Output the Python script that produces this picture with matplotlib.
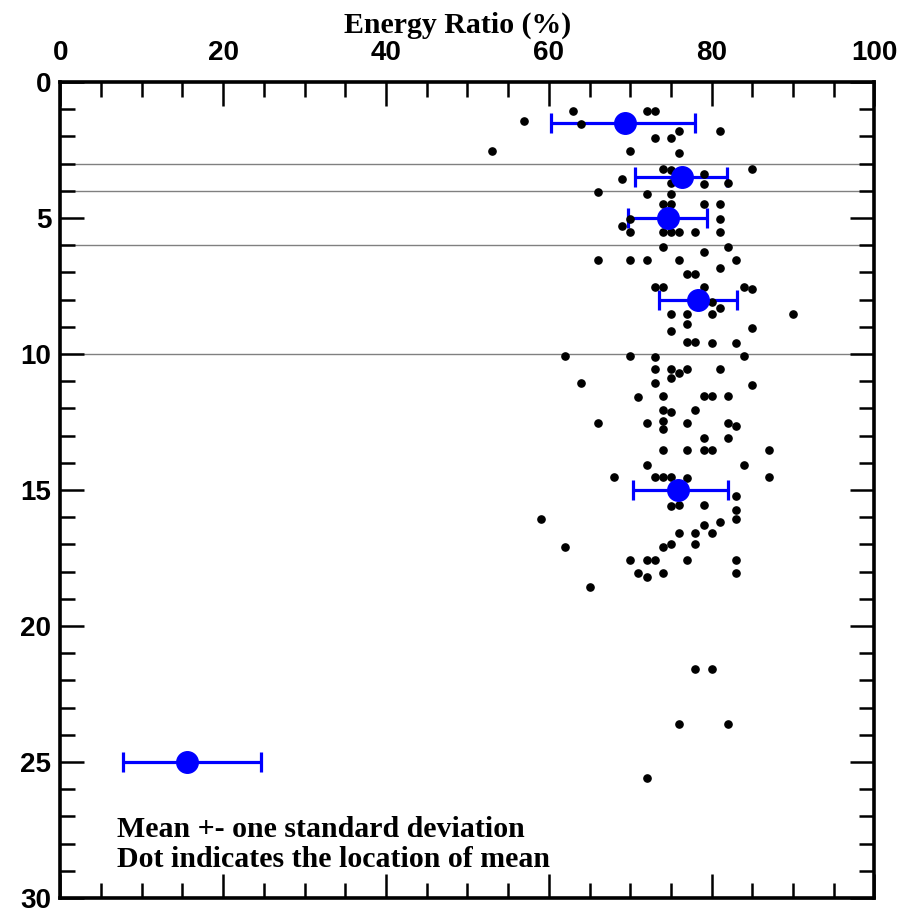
import numpy as np
import matplotlib
matplotlib.use("Agg")
from matplotlib import pyplot as plt
from matplotlib.ticker import MultipleLocator

# individual measurements: energy ratio (%) and depth
pts_x = [63, 72, 73, 57, 64, 81, 76, 73, 75, 53, 70, 76,
         85, 74, 75, 79, 69, 82, 75, 79, 66, 72, 75,
         74, 75, 79, 81, 81, 70, 69, 70, 74, 75, 76, 78, 81,
         74, 82, 79, 66, 70, 72, 76, 83, 81, 77, 78,
         73, 74, 79, 84, 85, 80, 81, 75, 77, 80, 90, 77, 85, 75,
         77, 78, 80, 83, 62, 70, 73, 84, 73, 75, 77, 81, 76, 75,
         64, 73, 85, 71, 74, 79, 80, 82, 74, 78, 75, 74,
         66, 72, 77, 82, 83, 74, 79, 82, 74, 77, 79, 80, 87,
         72, 84, 68, 73, 74, 75, 77, 87, 83, 75, 76, 79, 83,
         83, 59, 81, 79, 76, 78, 80, 62, 74, 75, 78,
         70, 72, 73, 77, 83, 71, 74, 83, 72, 65, 78, 80, 76, 82, 72]
pts_y = [1.05, 1.05, 1.05, 1.45, 1.55, 1.8, 1.8, 2.05, 2.05, 2.55, 2.55, 2.6,
         3.2, 3.2, 3.25, 3.4, 3.55, 3.7, 3.7, 3.75, 4.05, 4.12, 4.12,
         4.5, 4.5, 4.5, 4.5, 5.05, 5.05, 5.3, 5.53, 5.53, 5.53, 5.53, 5.53, 5.5,
         6.05, 6.08, 6.25, 6.55, 6.55, 6.55, 6.55, 6.55, 6.85, 7.05, 7.05,
         7.55, 7.55, 7.55, 7.55, 7.6, 8.1, 8.3, 8.52, 8.52, 8.52, 8.52, 8.9, 9.03, 9.15,
         9.55, 9.55, 9.58, 9.58, 10.07, 10.07, 10.1, 10.07, 10.57, 10.57, 10.57, 10.55, 10.7, 10.87,
         11.05, 11.05, 11.15, 11.6, 11.55, 11.55, 11.55, 11.55, 12.06, 12.06, 12.12, 12.45,
         12.55, 12.55, 12.55, 12.55, 12.65, 12.76, 13.1, 13.08, 13.54, 13.54, 13.54, 13.54, 13.54,
         14.09, 14.08, 14.53, 14.53, 14.53, 14.53, 14.55, 14.53, 15.24, 15.6, 15.57, 15.57, 15.74,
         16.07, 16.07, 16.16, 16.29, 16.57, 16.57, 16.6, 17.08, 17.08, 17.0, 17.0,
         17.57, 17.57, 17.57, 17.57, 17.57, 18.06, 18.06, 18.06, 18.2, 18.58, 21.6, 21.6, 23.6, 23.6, 25.6]

# group means with +- one standard deviation
mean_x = [69.4, 76.3, 74.6, 78.3, 75.9]
mean_y = [1.5, 3.5, 5.0, 8.0, 15.0]
low_x = [60.3, 70.6, 69.7, 73.5, 70.4]
high_x = [78.0, 81.9, 79.4, 83.1, 82.0]

# key example
key_x, key_y, key_low, key_high = 15.6, 25.0, 7.7, 24.7

# layer boundaries
bound_y = [3, 4, 6, 10]

fig = plt.figure(figsize=(9.06, 9.16), dpi=100)
ax = fig.add_axes([0.0666, 0.0197, 0.8986, 0.8908])

for b in bound_y:
    ax.axhline(b, color="#808080", lw=1.0, zorder=1)

mx = np.array(mean_x)
xerr = [mx - np.array(low_x), np.array(high_x) - mx]
ax.errorbar(mean_x, mean_y, xerr=xerr, fmt="none", ecolor="#0000ff",
            elinewidth=2.3, capsize=7, capthick=2.3, zorder=2)
ax.errorbar([key_x], [key_y], xerr=[[key_x - key_low], [key_high - key_x]],
            fmt="none", ecolor="#0000ff", elinewidth=2.3, capsize=7,
            capthick=2.3, zorder=2)

ax.plot(pts_x, pts_y, "o", color="black", ms=5.2, zorder=3)
ax.plot(mean_x + [key_x], mean_y + [key_y], "o", color="#0000ff", ms=15.5,
        zorder=4)

ax.set_xlim(0, 100)
ax.set_ylim(30, 0)

ax.xaxis.set_major_locator(MultipleLocator(20))
ax.xaxis.set_minor_locator(MultipleLocator(5))
ax.yaxis.set_major_locator(MultipleLocator(5))
ax.yaxis.set_minor_locator(MultipleLocator(1))
ax.xaxis.tick_top()
ax.tick_params(which="both", direction="in", top=True, bottom=True,
               left=True, right=True, width=1.8, labeltop=True,
               labelbottom=False)
ax.tick_params(which="major", length=17)
ax.tick_params(which="minor", length=10.5)
ax.tick_params(axis="x", which="major", pad=11.5)
ax.tick_params(axis="y", which="major", pad=6.5)
for lab in ax.get_xticklabels() + ax.get_yticklabels():
    lab.set_fontfamily("Liberation Sans")
    lab.set_fontweight("bold")
    lab.set_fontsize(20)

for s in ax.spines.values():
    s.set_linewidth(2.6)

fig.text(457.7 / 906, 1 - 33 / 916, "Energy Ratio (%)", ha="center",
         va="baseline", family="Liberation Serif", weight="bold", fontsize=21.5)

ax.text(7.0, 27.77, "Mean +- one standard deviation", ha="left",
        va="baseline", family="Liberation Serif", weight="bold", fontsize=21.5)
ax.text(7.0, 28.87, "Dot indicates the location of mean", ha="left",
        va="baseline", family="Liberation Serif", weight="bold", fontsize=21.5)

fig.savefig("out.png", dpi=100)
